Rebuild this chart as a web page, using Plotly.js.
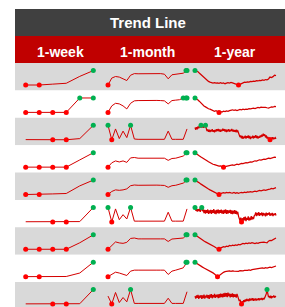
<!DOCTYPE html>
<html><head><meta charset="utf-8">
<script src="https://cdn.plot.ly/plotly-3.0.1.min.js"></script>
<style>html,body{margin:0;padding:0;background:#fff;overflow:hidden}#chart{width:285px;height:307px}</style>
</head><body><div id="chart"></div>
<script>
const titleText = 'Trend Line';
const periodLabels = ['1-week', '1-month', '1-year'];

// 1-week sparklines (6 points each), one array per row
const weekRows = [
  [0, 0, 6, 12, 60, 100],
  [0, 0, 0, 0, 100, 100],
  [1, 1, 0, 0, 8, 100],
  [0, 0, 0, 0, 50, 100],
  [0, 0, 4, 7, 60, 100],
  [1, 1, 0, 0, 2, 100],
  [0, 0, 0, 0, 45, 100],
  [0, 0, 1, 1, 25, 100],
  [1, 1, 0, 0, 2, 100]
];

// 1-month sparklines (22 points each)
const monthRows = [
  [0, 48, 59, 55, 43, 31, 68, 79, 78, 79, 80, 79, 79, 78, 79, 75, 43, 71, 75, 79, 82, 100],
  [0, 45, 63, 59, 45, 24, 63, 80, 82, 83, 82, 81, 82, 83, 82, 80, 59, 82, 85, 88, 100, 100],
  [100, 0, 75, 8, 60, 15, 100, 5, 3, 3, 3, 3, 3, 3, 3, 3, 60, 3, 3, 3, 3, 75],
  [0, 30, 43, 36, 43, 33, 64, 67, 62, 62, 63, 62, 62, 61, 62, 62, 47, 60, 62, 67, 77, 100],
  [0, 21, 32, 29, 32, 39, 61, 66, 64, 65, 63, 64, 64, 65, 64, 63, 50, 61, 64, 71, 79, 100],
  [100, 0, 90, 15, 50, 20, 100, 5, 5, 5, 5, 5, 5, 5, 5, 5, 67, 5, 5, 5, 5, 90],
  [0, 27, 51, 44, 41, 48, 75, 78, 72, 72, 73, 72, 72, 71, 72, 72, 54, 71, 72, 75, 78, 100],
  [0, 18, 31, 25, 18, 8, 38, 45, 45, 46, 45, 45, 44, 45, 45, 45, 15, 38, 45, 51, 61, 100],
  [55, 0, 80, 10, 45, 15, 100, 4, 4, 4, 4, 4, 4, 4, 4, 4, 40, 4, 4, 4, 4, 85]
];

// 1-year sparklines (null = no data); the noisy rows are read at a finer step
const yearRows = [
  [100, null, null, null, null, null, 100, 97, 92, 82, 72, 62, 50, 40, 33, 25, 20, 16, 14, 17, 13, 15, 12, 16, 11, 14, 9, 13, 17, 14, 18, 15, 10, 6, 2, 0, 4, 8, 15, 20, 18, 22, 20, 25, 23, 27, 25, 30, 28, 32, 30, 35, 33, 38, 36, 42, 55, 52, 58, 68, 65],
  [100, null, null, null, null, null, 100, 95, 86, 76, 64, 52, 44, 38, 30, 25, 22, 18, 13, 8, 12, 3, 0, 6, 2, 8, 5, 10, 7, 12, 15, 18, 14, 17, 13, 16, 20, 17, 22, 19, 23, 21, 26, 24, 28, 30, 27, 32, 34, 31, 36, 34, 37, 35, 32, 30, 34, 38, 36, 42, 40],
  [null, null, null, null, null, null, null, null, null, null, null, null,
   85, 70, 88, 72, 92, 80, 95, 85, 100, 88, 94, 84, 96, 90, 100,
   78, 60, 72, 56, 70, 54, 68, 58, 74, 55, 66, 52, 70, 57, 73, 60, 75, 58, 71, 55,
   69, 60, 76, 62, 74, 57, 72, 54, 70, 58, 73, 56, 68, 60, 75, 58, 70, 55, 67, 53, 69, 56, 62,
   45, 30, 18, 30, 10, 26, 6, 22, 12, 28, 8, 24, 14, 30, 10, 26, 5, 20, 12, 28,
   9, 25, 15, 32, 12, 27, 8, 22, 14, 30, 18, 35, 22, 42, 28, 38, 16, 30, 8, 20,
   4, 16, 0, 14, 6, 18, 3, 12, 8, 15, 6],
  [100, null, null, null, null, null, 100, 94, 85, 77, 70, 62, 55, 50, 44, 37, 30, 25, 20, 17, 13, 11, 7, 9, 4, 0, 3, 6, 10, 8, 12, 15, 13, 17, 20, 18, 22, 26, 24, 28, 31, 29, 34, 37, 35, 40, 44, 42, 47, 51, 49, 53, 56, 54, 58, 62, 60, 64, 66, 70, 68],
  [100, null, null, null, null, null, 100, 95, 88, 80, 72, 64, 56, 49, 44, 38, 32, 27, 22, 18, 10, 4, 0, 6, 9, 13, 10, 14, 11, 15, 12, 10, 14, 9, 13, 8, 12, 15, 12, 17, 14, 18, 16, 20, 17, 22, 24, 21, 26, 28, 25, 30, 32, 29, 34, 36, 38, 42, 40, 46, 48],
  [null, null, null, null, null, null, null, null, null, null, null, null,
   100, 78, 90, 72, 88, 75, 92, 70, 86, 100,
   74, 86, 60, 84, 58, 82, 62, 86, 56, 80, 60, 84, 55, 82, 62, 88, 58, 80, 54, 84,
   60, 86, 57, 82, 62, 85, 58, 80, 56, 84, 60, 86, 55, 82, 58, 80, 62, 84, 56, 80,
   54, 78, 58, 82, 55, 76, 52, 70,
   40, 22, 8, 30, 0, 25, 6, 32, 10, 36, 5, 28, 14, 38, 8, 30, 12, 40, 16, 35, 20, 42,
   48, 66, 40, 62, 45, 68, 42, 60, 48, 65, 40, 62, 46, 58, 38, 64, 44, 60, 50, 66,
   42, 58, 46, 62, 40, 56, 48, 60, 44],
  [100, null, null, null, null, null, 100, 92, 84, 77, 70, 64, 57, 51, 46, 40, 34, 29, 24, 18, 10, 3, 0, 8, 14, 18, 15, 22, 19, 26, 23, 28, 25, 30, 27, 33, 30, 36, 40, 37, 42, 39, 44, 41, 46, 43, 40, 44, 41, 46, 48, 45, 50, 47, 44, 56, 62, 60, 68, 74, 78],
  [100, null, null, null, null, null, 100, 92, 84, 78, 72, 66, 60, 55, 50, 44, 38, 33, 26, 18, 10, 0, 6, 16, 24, 30, 34, 37, 35, 39, 36, 40, 38, 36, 39, 37, 41, 38, 40, 43, 41, 44, 46, 44, 48, 50, 52, 50, 55, 58, 56, 60, 58, 62, 59, 64, 66, 63, 68, 72, 74],
  [null, null, null, null, null, null, null, null, null, null, null, null,
   55, 38, 60, 42, 64, 35, 58, 44, 62, 36, 60, 40, 66, 38, 58, 45, 64, 40, 62, 36,
   66, 44, 68, 40, 62, 46, 70, 42, 64, 48, 66, 40, 68, 44, 72, 48, 70, 46, 74, 50,
   78, 52, 76, 48, 79, 54, 72, 46, 70, 50, 74, 46, 68, 50, 66, 44, 70, 52,
   38, 20, 30, 8, 0, 18, 10, 26, 14,
   32, 18, 36, 22, 30, 20, 38, 24, 34, 26, 40, 22, 36, 28, 38, 24, 34, 30, 40, 26,
   36, 32, 42, 28, 38, 34, 44,
   55, 70, 100, 62, 48, 56,
   42, 58, 40, 54, 46, 60, 44, 52, 48]
];

const W = 285, H = 307;
const lineColor = 'rgb(212,0,0)';
const minColor = '#ff0000';
const maxColor = '#00b050';
const greyBg = '#d9d9d9';

const cols = [
  {rows: weekRows, x0: 25.7, x1: 93.3, lw: 1},
  {rows: monthRows, x0: 108, x1: 187, lw: 1},
  {rows: yearRows, x0: 186, x1: 276, lw: 1.25}
];
const rowTop = r => 63 + 27.375 * r;

const traces = [];
const layout = {
  width: W, height: H,
  margin: {l: 0, r: 0, t: 0, b: 0},
  paper_bgcolor: '#ffffff',
  plot_bgcolor: 'rgba(0,0,0,0)',
  showlegend: false,
  shapes: [],
  annotations: []
};

// header bands
layout.shapes.push({type: 'rect', xref: 'paper', yref: 'paper', layer: 'below',
  x0: 15 / W, x1: 1, y0: 1 - 36 / H, y1: 1 - 9 / H, fillcolor: '#404040', line: {width: 0}});
layout.shapes.push({type: 'rect', xref: 'paper', yref: 'paper', layer: 'below',
  x0: 15 / W, x1: 1, y0: 1 - 63 / H, y1: 1 - 36 / H, fillcolor: '#c00000', line: {width: 0}});
// row bands
for (let r = 0; r < 9; r++) {
  const t = rowTop(r), b = Math.min(H, rowTop(r + 1));
  layout.shapes.push({type: 'rect', xref: 'paper', yref: 'paper', layer: 'below',
    x0: 15 / W, x1: 1, y0: 1 - b / H, y1: 1 - t / H,
    fillcolor: r % 2 === 0 ? greyBg : '#ffffff', line: {width: 0}});
}

const hdrFont = {family: 'Liberation Sans, Arial, sans-serif', color: '#ffffff'};
layout.annotations.push({text: '<b>' + titleText + '</b>', xref: 'paper', yref: 'paper',
  x: 148 / W, y: 1 - 22 / H, xanchor: 'center', yanchor: 'middle', showarrow: false,
  font: Object.assign({size: 15}, hdrFont)});
const hdrX = [60, 148, 235];
periodLabels.forEach((p, i) => {
  layout.annotations.push({text: '<b>' + p + '</b>', xref: 'paper', yref: 'paper',
    x: hdrX[i] / W, y: 1 - 52.5 / H, xanchor: 'center', yanchor: 'middle', showarrow: false,
    font: Object.assign({size: 14}, hdrFont)});
});

let k = 0;
const pad = 2.5;
cols.forEach(col => {
  col.rows.forEach((vals, r) => {
    k++;
    const sfx = k === 1 ? '' : String(k);
    const n = vals.length;
    const xs = vals.map((_, i) => i);
    const nums = vals.filter(v => v !== null);
    const mn = Math.min(...nums), mx = Math.max(...nums);
    const top = rowTop(r);
    const pyMin = top + 22, pyMax = top + 7.6;
    const xppu = (col.x1 - col.x0) / (n - 1);
    const yppu = (pyMin - pyMax) / (mx - mn);
    layout['xaxis' + sfx] = {
      domain: [(col.x0 - pad) / W, (col.x1 + pad) / W],
      range: [-pad / xppu, n - 1 + pad / xppu],
      visible: false, fixedrange: true, anchor: 'y' + sfx
    };
    layout['yaxis' + sfx] = {
      domain: [Math.max(0, 1 - (pyMin + pad) / H), Math.min(1, 1 - (pyMax - pad) / H)],
      range: [mn - pad / yppu, mx + pad / yppu],
      visible: false, fixedrange: true, anchor: 'x' + sfx
    };
    traces.push({type: 'scatter', mode: 'lines', x: xs, y: vals, xaxis: 'x' + sfx, yaxis: 'y' + sfx,
      line: {color: lineColor, width: col.lw}, connectgaps: false, hoverinfo: 'skip'});
    const minIdx = xs.filter(i => vals[i] === mn);
    const maxIdx = xs.filter(i => vals[i] === mx);
    traces.push({type: 'scatter', mode: 'markers', x: minIdx, y: minIdx.map(i => vals[i]),
      xaxis: 'x' + sfx, yaxis: 'y' + sfx, cliponaxis: false, hoverinfo: 'skip',
      marker: {color: minColor, size: 5, line: {width: 0}}});
    traces.push({type: 'scatter', mode: 'markers', x: maxIdx, y: maxIdx.map(i => vals[i]),
      xaxis: 'x' + sfx, yaxis: 'y' + sfx, cliponaxis: false, hoverinfo: 'skip',
      marker: {color: maxColor, size: 5, line: {width: 0}}});
  });
});

Plotly.newPlot('chart', traces, layout, {displayModeBar: false, staticPlot: true});
</script>
</body></html>
